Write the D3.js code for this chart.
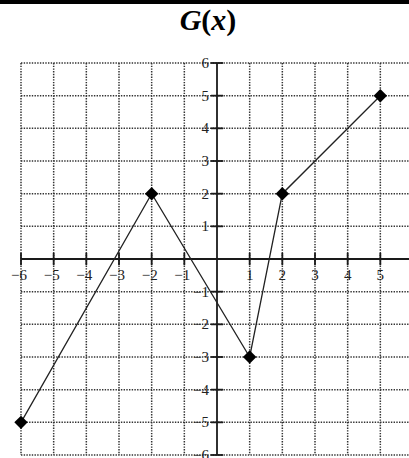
<!DOCTYPE html>
<html>
<head>
<meta charset="utf-8">
<script src="https://cdn.jsdelivr.net/npm/d3@7"></script>
<style>
  html, body { margin: 0; padding: 0; background: #fff; }
  svg { display: block; }
  .tick-label { font-family: "Liberation Serif", "DejaVu Serif", serif; font-size: 15px; fill: #222; }
</style>
</head>
<body>
<div id="chart"></div>
<script>
// points of G(x)
const xs = [-6, -2, 1, 2, 5];
const ys = [-5, 2, -3, 2, 5];
const ticks = [-6, -5, -4, -3, -2, -1, 1, 2, 3, 4, 5, 6];
const gridVals = [-6, -5, -4, -3, -2, -1, 1, 2, 3, 4, 5, 6];
const titleParts = [["G", true], ["(", false], ["x", true], [")", false]];

const W = 409, H = 458;
const svg = d3.select("#chart").append("svg").attr("width", W).attr("height", H);

const x = d3.scaleLinear().domain([-6, 6]).range([21, 413]);
const y = d3.scaleLinear().domain([-6, 6]).range([455, 63]);

// thick rule at the very top
svg.append("rect").attr("x", 0).attr("y", 0).attr("width", W).attr("height", 4).attr("fill", "#000");

// title: G and x italic, brackets upright
svg.append("text")
  .attr("x", 208).attr("y", 30)
  .attr("text-anchor", "middle")
  .style("font-family", "'Liberation Serif', 'DejaVu Serif', serif")
  .style("font-weight", "bold")
  .style("font-size", "30px")
  .selectAll("tspan").data(titleParts).enter().append("tspan")
  .style("font-style", d => d[1] ? "italic" : "normal")
  .text(d => d[0]);

// dotted grid
const grid = svg.append("g").attr("stroke", "#333").attr("stroke-width", 1.5)
  .attr("stroke-dasharray", "1.4,1.3");
grid.selectAll("line.v").data(gridVals).enter().append("line")
  .attr("x1", d => x(d)).attr("x2", d => x(d))
  .attr("y1", y(6)).attr("y2", y(-6));
grid.selectAll("line.h").data(gridVals).enter().append("line")
  .attr("y1", d => y(d)).attr("y2", d => y(d))
  .attr("x1", x(-6)).attr("x2", x(6));

// axes
const ax = svg.append("g").attr("stroke", "#1a1a1a").attr("stroke-width", 1.8);
ax.append("line").attr("x1", x(-6)).attr("x2", x(6)).attr("y1", y(0)).attr("y2", y(0));
ax.append("line").attr("x1", x(0)).attr("x2", x(0)).attr("y1", y(6)).attr("y2", y(-6));
ax.selectAll("line.tx").data(ticks).enter().append("line")
  .attr("x1", d => x(d)).attr("x2", d => x(d))
  .attr("y1", y(0) - 6).attr("y2", y(0) + 6);
ax.selectAll("line.ty").data(ticks).enter().append("line")
  .attr("y1", d => y(d)).attr("y2", d => y(d))
  .attr("x1", x(0) - 6).attr("x2", x(0) + 6);

// tick labels
svg.selectAll("text.xl").data(ticks).enter().append("text")
  .attr("class", "tick-label")
  .attr("x", d => x(d) - (d < 0 ? 2 : 0))
  .attr("y", y(0) + 21)
  .attr("text-anchor", "middle")
  .text(d => d < 0 ? "\u2212" + Math.abs(d) : d);
svg.selectAll("text.yl").data(ticks).enter().append("text")
  .attr("class", "tick-label")
  .attr("x", x(0) - 8)
  .attr("y", d => y(d) + 5)
  .attr("text-anchor", "end")
  .text(d => d < 0 ? "\u2212" + Math.abs(d) : d);

// the graph
const pts = xs.map((v, i) => [v, ys[i]]);
svg.append("path")
  .attr("d", d3.line().x(d => x(d[0])).y(d => y(d[1]))(pts))
  .attr("fill", "none").attr("stroke", "#222").attr("stroke-width", 1.3);
svg.selectAll("path.pt").data(pts).enter().append("path")
  .attr("d", d3.symbol(d3.symbolSquare, 90))
  .attr("transform", d => `translate(${x(d[0])},${y(d[1])}) rotate(45)`)
  .attr("fill", "#000");
</script>
</body>
</html>
